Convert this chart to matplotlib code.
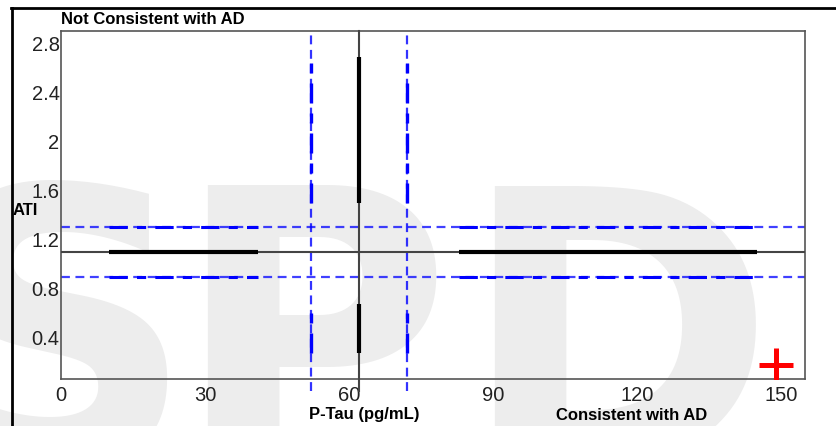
import matplotlib.pyplot as plt
from matplotlib.lines import Line2D

plt.rcParams['font.family'] = ['Liberation Sans', 'DejaVu Sans']

# cut-offs and reference ranges
ptau_cut = 62
ati_cut = 1.1
ptau_band = [52, 72]
ati_band = [0.9, 1.3]

# thicker segments on the cut-off lines
ptau_segments = [(10, 41), (83, 145)]
ati_segments = [(0.28, 0.68), (1.5, 2.69)]

# patient result
patient_ptau = [149]
patient_ati = [0.18]

x_ticks = [0, 30, 60, 90, 120, 150]
y_ticks = [0.4, 0.8, 1.2, 1.6, 2.0, 2.4, 2.8]
y_labels = ['0.4', '0.8', '1.2', '1.6', '2', '2.4', '2.8']

fig = plt.figure(figsize=(8.36, 4.26), dpi=100)

# watermark letters behind everything
for letter, cx in [('S', 58), ('P', 312), ('D', 617)]:
    fig.text(cx / 836, -0.089, letter, fontsize=274, fontweight='bold', color='#ededed',
             ha='center', va='baseline', zorder=-5, family='DejaVu Sans')

# outer frame of the report box
fig.add_artist(Line2D([11 / 836, 1], [1 - 8 / 426, 1 - 8 / 426], color='black', lw=2))
fig.add_artist(Line2D([12 / 836, 12 / 836], [0, 1 - 8 / 426], color='black', lw=2))

ax = fig.add_axes([61 / 836, 1 - 379 / 426, 744 / 836, 348 / 426])
ax.set_facecolor('none')
ax.set_xlim(0, 155)
ax.set_ylim(0.065, 2.9)

blue = '#0000ff'
for yv in ati_band:
    ax.axhline(yv, color=blue, lw=1.6, alpha=0.75, dashes=(4, 2.5), zorder=2)
    for a, b in ptau_segments:
        ax.plot([a, b], [yv, yv], color=blue, lw=2.2, dashes=(6, 3, 3, 3), zorder=3)
for xv in ptau_band:
    ax.axvline(xv, ymin=-0.035, color=blue, lw=1.6, alpha=0.8, dashes=(4, 2.5),
               clip_on=False, zorder=2)
    for a, b in ati_segments:
        ax.plot([xv, xv], [a, b], color=blue, lw=2.4, dashes=(6, 3, 3, 3), zorder=3)

ax.axhline(ati_cut, color='#444444', lw=1.5, zorder=4)
ax.axvline(ptau_cut, ymin=-0.035, color='#444444', lw=1.5, clip_on=False, zorder=4)
for a, b in ptau_segments:
    ax.plot([a, b], [ati_cut, ati_cut], color='black', lw=3, solid_capstyle='butt', zorder=5)
for a, b in ati_segments:
    ax.plot([ptau_cut, ptau_cut], [a, b], color='black', lw=3, solid_capstyle='butt', zorder=5)

ax.plot(patient_ptau, patient_ati, marker='+', color='red', markersize=24, mew=3.6,
        linestyle='none', zorder=6)

ax.set_xticks(x_ticks)
ax.set_yticks(y_ticks)
ax.set_yticklabels(y_labels)
ax.tick_params(length=0, labelsize=14.5, colors='#222222', pad=1)
ax.tick_params(axis='x', pad=5)
for s in ax.spines.values():
    s.set_color('#555555')
    s.set_linewidth(1.2)

fig.text(61 / 836, 1 - 19 / 426, 'Not Consistent with AD', fontsize=12, fontweight='bold',
         ha='left', va='center')
fig.text(13 / 836, 1 - 211 / 426, 'ATI', fontsize=12, fontweight='bold', ha='left', va='center')
fig.text(364 / 836, 1 - 415 / 426, 'P-Tau (pg/mL)', fontsize=12, fontweight='bold',
         ha='center', va='center')
fig.text(632 / 836, 1 - 415 / 426, 'Consistent with AD', fontsize=12, fontweight='bold',
         ha='center', va='center')

fig.savefig('out.png', dpi=100)
